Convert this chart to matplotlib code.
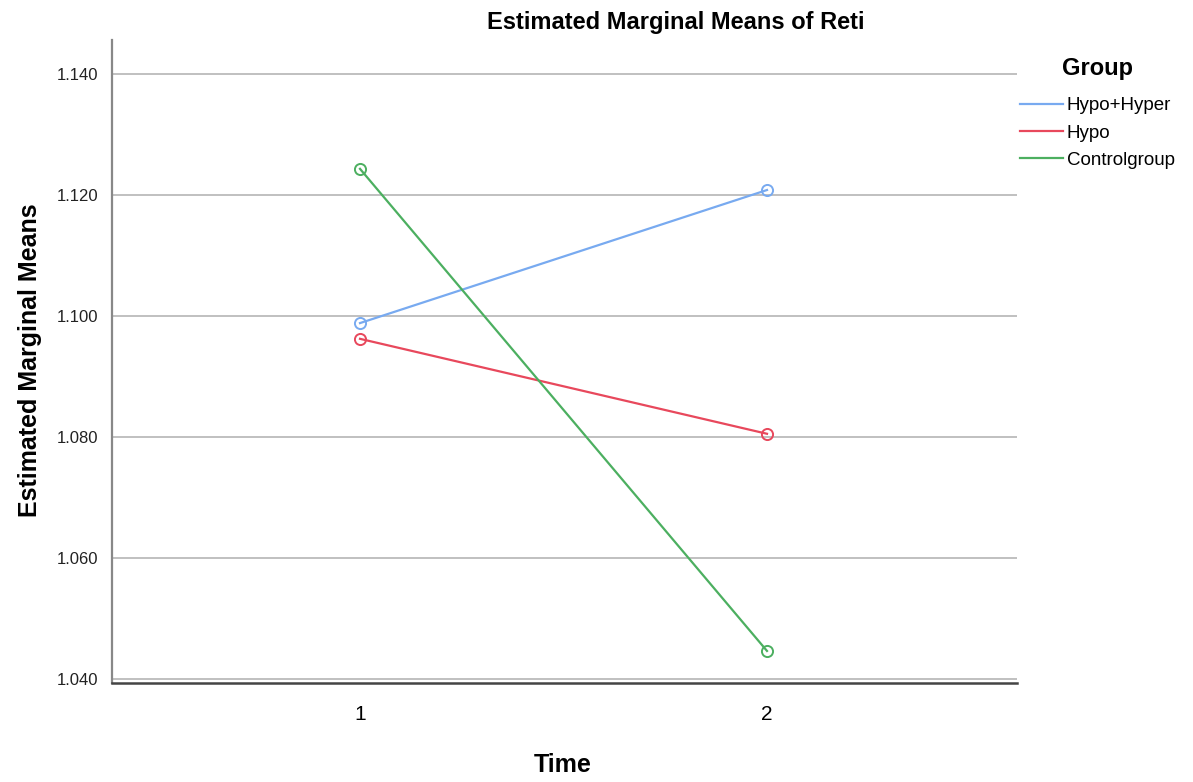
import matplotlib
matplotlib.use("Agg")
import matplotlib.pyplot as plt

times = [1, 2]
groups = ["Hypo+Hyper", "Hypo", "Controlgroup"]
hypo_hyper = [1.0988, 1.1208]
hypo = [1.0962, 1.0805]
control = [1.1243, 1.0446]
colors = ["#78aaf0", "#e8485c", "#4caf60"]
yticks = [1.040, 1.060, 1.080, 1.100, 1.120, 1.140]
ytick_labels = ["1.040", "1.060", "1.080", "1.100", "1.120", "1.140"]

plt.rcParams['font.family'] = ['Liberation Sans', 'DejaVu Sans']

fig = plt.figure(figsize=(11.93, 7.82), dpi=100)
ax = fig.add_axes([112/1193, 1-683/782, (1017-112)/1193, (683-40)/782])

for name, vals, c in zip(groups, [hypo_hyper, hypo, control], colors):
    ax.plot(times, vals, color=c, lw=1.6, marker='o', markersize=8,
            markerfacecolor='none', markeredgecolor=c, markeredgewidth=1.4, label=name)

ax.set_xlim(1 - 248/407, 2 + 250/407)
ax.set_ylim(1.0393, 1.1456)
ax.set_yticks(yticks)
ax.set_yticklabels(ytick_labels, fontsize=12, color="#222222")
ax.set_xticks(times)
ax.set_xticklabels([str(t) for t in times], fontsize=15)
ax.tick_params(axis='both', length=0)
ax.tick_params(axis='y', pad=10)
ax.tick_params(axis='x', pad=16)
ax.yaxis.grid(True, color="#bbbbbb", lw=1.3)
ax.set_axisbelow(True)
for s in ["top", "right"]:
    ax.spines[s].set_visible(False)
ax.spines["left"].set_color("#888888")
ax.spines["left"].set_linewidth(1.6)
ax.spines["bottom"].set_color("#444444")
ax.spines["bottom"].set_linewidth(1.8)

fig.text(563/1193, 1-765/782, "Time", fontsize=18, fontweight="bold",
         ha="center", va="center")
fig.text(30/1193, 1-360/782, "Estimated Marginal Means", fontsize=18, fontweight="bold",
         ha="center", va="center", rotation=90)
fig.text(676/1193, 1-22/782, "Estimated Marginal Means of Reti", fontsize=17,
         fontweight="bold", ha="center", va="center")
fig.text(1062/1193, 1-68/782, "Group", fontsize=17, fontweight="bold",
         ha="left", va="center")

leg = ax.legend(loc="upper left", bbox_to_anchor=((1020-112)/905, (683-97)/643), frameon=False,
                fontsize=13.5, handlelength=2.3, handletextpad=0.2,
                labelspacing=0.55, borderaxespad=0.0, borderpad=0.0)
for h in leg.get_lines():
    h.set_marker("")
    h.set_linewidth(1.6)

fig.savefig("out.png", dpi=100)
